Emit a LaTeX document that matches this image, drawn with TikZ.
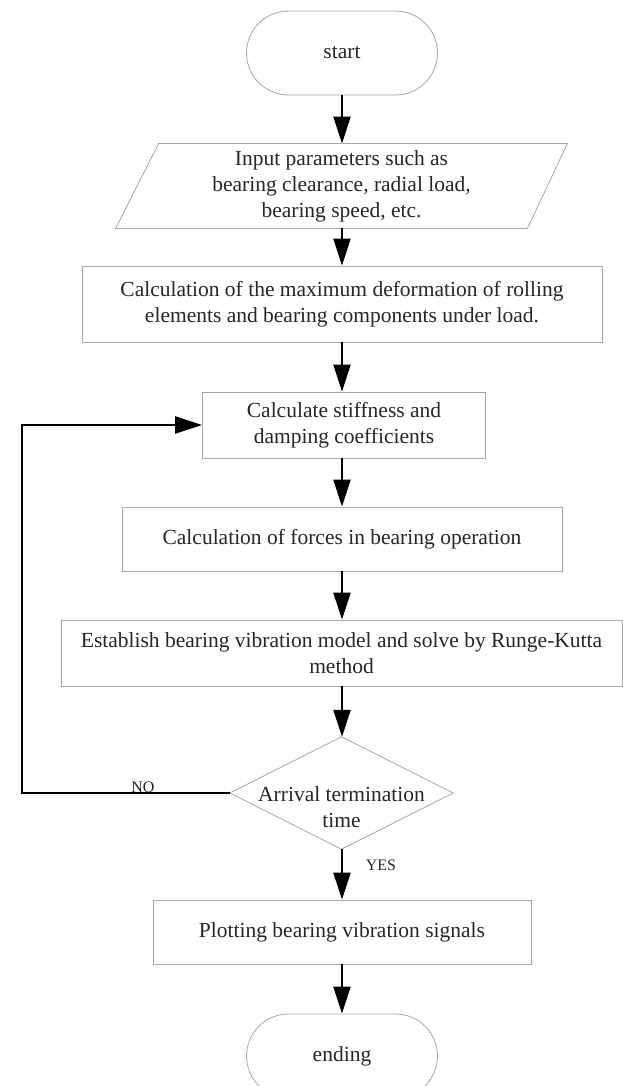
\documentclass[tikz,border=0pt]{standalone}
\usepackage{fontspec}
\setmainfont{Liberation Serif}
\usetikzlibrary{arrows.meta,shapes.misc,calc}
\begin{document}
\begin{tikzpicture}[x=1pt,y=-1pt,
  outline/.style={draw=gray!70, line width=0.8pt},
  box/.style={outline, align=center, inner sep=0pt, text=black!85, font=\fontsize{21.5}{26}\selectfont},
  term/.style={box, rounded rectangle, minimum width=191, minimum height=84},
  flow/.style={draw=black, line width=2.2pt, -{Triangle[length=27pt,width=17pt]}},
  lbl/.style={text=black!85, font=\fontsize{16}{18}\selectfont, inner sep=0pt}
]
\useasboundingbox (0,0) rectangle (622,1086);
\fill[white] (0,0) rectangle (622,1086);
\node[term] (start) at (342,53) {start};
\node[box, draw=none, minimum width=451, minimum height=84] (input) at (341.5,186)
  {Input parameters such as\\bearing clearance, radial load,\\bearing speed, etc.};
\draw[outline] (input.south west) -- ($(input.north west)+(43,0)$) -- (input.north east)
  -- ($(input.south east)+(-40,0)$) -- cycle;
\node[box, minimum width=520, minimum height=76] (deform) at (342,304)
  {Calculation of the maximum deformation of rolling\\elements and bearing components under load.};
\node[box, minimum width=283, minimum height=66] (stiff) at (344,425)
  {Calculate stiffness and\\damping coefficients};
\node[box, minimum width=440, minimum height=64] (forces) at (342,539)
  {Calculation of forces in bearing operation};
\node[box, minimum width=561, minimum height=66] (estab) at (341.5,653)
  {Establish bearing vibration model and solve by Runge-Kutta\\method};
\node[minimum width=223, minimum height=112, inner sep=0pt] (arrive) at (341.5,793) {};
\draw[outline] (arrive.north) -- (arrive.east) -- (arrive.south) -- (arrive.west) -- cycle;
\node[box, draw=none] (arrivetxt) at (341.5,807) {Arrival termination\\time};
\node[box, minimum width=378, minimum height=64] (plot) at (342,932)
  {Plotting bearing vibration signals};
\node[term] (end) at (342,1056) {ending};
\coordinate (loopc) at (22,793);
\draw[flow] (start.south) -- (start.south |- input.north);
\draw[flow] (start.south |- input.south) -- (start.south |- deform.north);
\draw[flow] (start.south |- deform.south) -- (start.south |- stiff.north);
\draw[flow] (start.south |- stiff.south) -- (start.south |- forces.north);
\draw[flow] (start.south |- forces.south) -- (start.south |- estab.north);
\draw[flow] (start.south |- estab.south) -- (start.south |- arrive.north);
\draw[flow] (start.south |- arrive.south) -- (start.south |- plot.north);
\draw[flow] (plot.south) -- (end.north);
\draw[flow] (arrive.west) -- (loopc) |- (stiff.west);
\node[lbl] (no) at (143,787) {NO};
\node[lbl] (yes) at (381,865) {YES};
\end{tikzpicture}
\end{document}
